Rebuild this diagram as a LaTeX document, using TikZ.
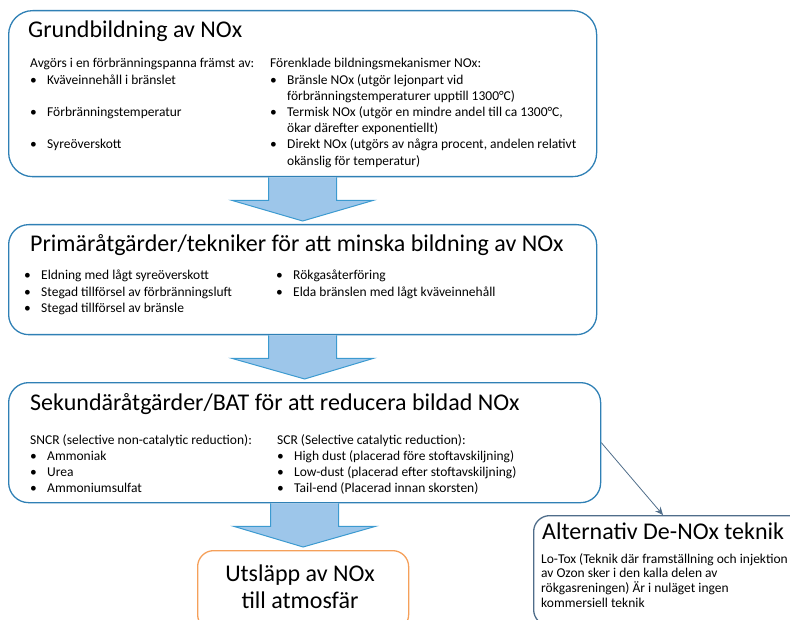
\documentclass[tikz,border=0pt]{standalone}
\usepackage{fontspec}
\setmainfont{Carlito}
\usetikzlibrary{positioning,arrows.meta,calc}
\definecolor{boxblue}{HTML}{2F80B5}
\definecolor{arrowline}{HTML}{3C9AD0}
\definecolor{arrowfill}{HTML}{9DC6EA}
\definecolor{emitorange}{HTML}{F5A05A}
\definecolor{altslate}{HTML}{4F6D8A}

\newcommand{\bp}{\makebox[17pt][l]{\textbullet}}
\newcommand{\ind}{\hspace*{17pt}}
\newcommand{\lines}[1]{\begin{tabular}[t]{@{}l@{}}#1\end{tabular}}
\newcommand{\flowarrow}[2]{%
 \fill[arrowfill] ($(#1.south)+(-34,0)$) -- ++(0,23) -- ++(-37,0) -- ($(#2.north)+(0,-3)$) -- ($(#1.south)+(71,23)$) -- ++(-37,0) -- ($(#1.south)+(34,0)$) -- cycle;
 \draw[flow] ($(#1.south)+(-34,0)$) -- ++(0,23) -- ++(-37,0) -- ($(#2.north)+(0,-3)$) -- ($(#1.south)+(71,23)$) -- ++(-37,0) -- ($(#1.south)+(34,0)$);}

\begin{document}
\begin{tikzpicture}[x=1pt,y=-1pt,
 box/.style={draw=boxblue,line width=1.3pt,rounded corners=24pt,anchor=north west,inner sep=0pt},
 ttl/.style={anchor=base west,inner sep=0pt,font=\fontsize{24}{29}\selectfont},
 txt/.style={anchor=base west,inner sep=0pt,font=\fontsize{13.5}{16.2}\selectfont},
 flow/.style={draw=arrowline,line width=1pt,line join=miter},
 >={Stealth[length=8pt,width=7pt]}]
\useasboundingbox (0,0) rectangle (790,620);
% boxes
\node[box,minimum width=588pt,minimum height=166pt] (grund) at (8,10) {};
\node[box,rounded corners=20pt,minimum width=588pt,minimum height=110pt] (prim) at (8,224) {};
\node[box,rounded corners=20pt,minimum width=592pt,minimum height=120pt] (sek) at (8,382) {};
\node[box,draw=emitorange,rounded corners=16pt,minimum width=211pt,minimum height=80pt] (utslapp) at (197,550) {};
\node[box,draw=altslate,rounded corners=16pt,minimum width=290pt,minimum height=110pt] (alt) at (533,515) {};
% Grundbildning
\node[ttl] (grundttl) at (28,38) {Grundbildning av NOx};
\node[txt] (grundleft) at (30,68) {\lines{Avgörs i en förbränningspanna främst av:\\ \bp Kväveinnehåll i bränslet\\ \\ \bp Förbränningstemperatur\\ \\ \bp Syreöverskott}};
\node[txt] (grundright) at (270,68) {\lines{Förenklade bildningsmekanismer NOx:\\ \bp Bränsle NOx (utgör lejonpart vid\\ \ind förbränningstemperaturer upptill 1300°C)\\ \bp Termisk NOx (utgör en mindre andel till ca 1300°C,\\ \ind ökar därefter exponentiellt)\\ \bp Direkt NOx (utgörs av några procent, andelen relativt\\ \ind okänslig för temperatur)}};
% Primära
\node[ttl] (primttl) at (30,252) {Primäråtgärder/tekniker för att minska bildning av NOx};
\node[txt] (primleft) at (24,280) {\lines{\bp Eldning med lågt syreöverskott\\ \bp Stegad tillförsel av förbränningsluft\\ \bp Stegad tillförsel av bränsle}};
\node[txt] (primright) at (276,280) {\lines{\bp Rökgasåterföring\\ \bp Elda bränslen med lågt kväveinnehåll}};
% Sekundära
\node[ttl] (sekttl) at (30,410) {Sekundäråtgärder/BAT för att reducera bildad NOx};
\node[txt] (sekleft) at (30,444) {\lines{SNCR (selective non-catalytic reduction):\\ \bp Ammoniak\\ \bp Urea\\ \bp Ammoniumsulfat}};
\node[txt] (sekright) at (277,444) {\lines{SCR (Selective catalytic reduction):\\ \bp High dust (placerad före stoftavskiljning)\\ \bp Low-dust (placerad efter stoftavskiljning)\\ \bp Tail-end (Placerad innan skorsten)}};
% Utsläpp
\node[anchor=base,inner sep=0pt,font=\fontsize{24}{27}\selectfont] (utsltxt) at (300,581) {\begin{tabular}[t]{@{}c@{}}Utsläpp av NOx\\ till atmosfär\end{tabular}};
% Alternativ
\node[ttl] (altttl) at (542,539) {Alternativ De-NOx teknik};
\node[txt,font=\fontsize{13.5}{14.5}\selectfont] (alttxt) at (541,563) {\lines{Lo-Tox (Teknik där framställning och injektion\\ av Ozon sker i den kalla delen av\\ rökgasreningen) Är i nuläget ingen\\ kommersiell teknik}};
% arrows
\flowarrow{grund}{prim}
\flowarrow{prim}{sek}
\flowarrow{sek}{utslapp}
\draw[->,altslate,line width=0.8pt] (sek.east) -- ($(alt.north west)+(130,0)$);
\end{tikzpicture}
\end{document}
